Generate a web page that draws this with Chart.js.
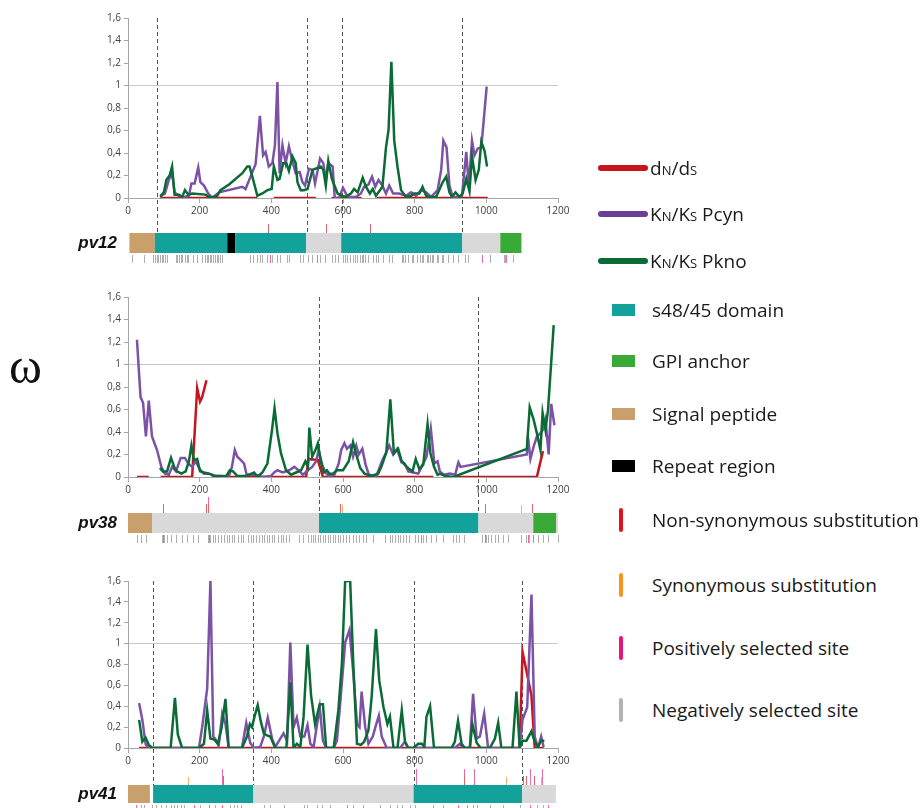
<!DOCTYPE html>
<html>
<head>
<meta charset="utf-8">
<script src="https://cdn.jsdelivr.net/npm/chart.js@4.4.1/dist/chart.umd.min.js"></script>
<style>
body { margin: 0; background: #fff; width: 922px; height: 808px; overflow: hidden; position: relative; font-family: 'Open Sans', sans-serif; }
canvas { position: absolute; left: 0; }
.gene { position: absolute; left: 0; width: 117px; text-align: right; font: italic bold 17px 'Liberation Sans', Arial, sans-serif; color: #111; line-height: 20px; }
.omega { position: absolute; left: 9px; top: 336px; font: 50px 'Liberation Serif', serif; color: #111; line-height: 60px; }
.leg { position: absolute; font-size: 19px; color: #1a1a1a; white-space: nowrap; line-height: 24px; }
.leg small { font-size: 13px; }
.sw { position: absolute; }
</style>
</head>
<body>
<canvas id="pv12" width="600" height="270" style="top:0px"></canvas>
<canvas id="pv38" width="600" height="270" style="top:280px"></canvas>
<canvas id="pv41" width="600" height="248" style="top:560px"></canvas>

<div class="gene" style="top:233px">pv12</div>
<div class="gene" style="top:513px">pv38</div>
<div class="gene" style="top:784px">pv41</div>
<div class="omega">ω</div>

<div id="legend"></div>

<script>
// ---------- data ----------
var xTicks = [0, 200, 400, 600, 800, 1000, 1200];

// pv12
var pv12Dnds = [[90,0],[361,0],[362,null],[407,0],[524,0],[525,null],[568,0],[652,0],[653,null],[694,0],[1004,0]];
var pv12Pcyn = [[90,0.02],[103,0.04],[114,0.16],[123,0.22],[130,0.05],[142,0.02],[156,0.01],[170,0.02],[177,0.13],[186,0.13],[196,0.27],[202,0.14],[212,0.11],[224,0.04],[235,0],[254,0.05],[319,0.10],[328,0.08],[342,0.19],[356,0.30],[368,0.73],[377,0.38],[384,0.41],[393,0.28],[403,0.31],[410,0.47],[417,1.03],[423,0.22],[431,0.47],[440,0.31],[449,0.46],[457,0.35],[468,0.22],[479,0.23],[487,0.14],[494,0.11],[505,0.26],[515,0.25],[522,0.13],[536,0.35],[545,0.31],[552,0.16],[559,0.31],[571,0.28],[577,0],[589,0],[600,0.09],[613,0.01],[636,0.01],[650,0.04],[659,0.10],[671,0.12],[681,0.19],[690,0.10],[699,0.16],[710,0.11],[720,0.04],[729,0.11],[740,0.04],[757,0.04],[776,0.02],[790,0.05],[804,0.02],[818,0.07],[832,0.05],[846,0.01],[864,0.07],[874,0.25],[880,0.51],[889,0.45],[897,0.11],[906,0.01],[920,0.01],[932,0.02],[944,0.41],[951,0.10],[960,0.51],[967,0.38],[976,0.44],[986,0.45],[1001,0.99]];
var pv12Pkno = [[90,0.01],[100,0.05],[107,0.16],[116,0.20],[123,0.28],[130,0.03],[142,0.03],[151,0.01],[159,0.07],[168,0.03],[179,0.04],[216,0.03],[226,0.01],[240,0.01],[249,0.02],[258,0.07],[282,0.12],[319,0.22],[333,0.28],[339,0.28],[347,0.19],[361,0.02],[375,0.04],[389,0.07],[401,0.08],[407,0.28],[417,0.16],[423,0.17],[433,0.31],[442,0.31],[449,0.24],[459,0.37],[468,0.31],[473,0.14],[482,0.07],[491,0.07],[501,0.08],[515,0.25],[538,0.28],[545,0.25],[552,0.11],[559,0.33],[569,0.17],[585,0.04],[597,0.02],[608,0.01],[622,0.04],[631,0.08],[641,0.05],[655,0.18],[664,0.10],[675,0.04],[683,0.08],[692,0.02],[710,0.10],[720,0.45],[727,0.60],[735,1.21],[743,0.51],[752,0.28],[762,0.07],[776,0.01],[790,0.02],[799,0.04],[813,0.04],[822,0.10],[832,0.02],[841,0.01],[860,0.01],[878,0.14],[888,0.19],[897,0.05],[904,0.01],[914,0.05],[925,0.01],[934,0.04],[944,0.17],[953,0.06],[960,0.37],[970,0.16],[979,0.25],[986,0.50],[995,0.42],[1002,0.28]];
var pv12Bounds = [80, 499, 596, 933];
var pv12Domains = [[4,75,'signal'],[75,277,'s48'],[277,299,'repeat'],[299,497,'s48'],[497,595,'other'],[595,933,'s48'],[933,1039,'other'],[1039,1098,'gpi']];
var pv12NonSyn = [391, 553, 675];
var pv12Syn = [];
var pv12PosAbove = [];
var pv12NegSites = [10,46,71,75,80,85,89,94,99,103,108,133,138,142,147,152,159,164,168,182,192,206,215,220,224,229,233,238,243,247,252,257,261,340,350,359,368,373,387,401,415,424,443,449,480,489,503,513,536,550,568,578,587,601,606,610,620,629,634,638,647,652,657,661,671,685,692,699,713,727,736,764,768,773,782,792,796,806,815,820,824,834,838,843,847,852,861,866,875,880,894,908,922,941,950,1010,1048,1052,1075];
var pv12PosSites = [396, 527, 987, 1055];

// pv38
var pv38Dnds = [[25,0],[58,0],[59,null],[91,0],[179,0],[193,0.79],[201,0.67],[207,0.71],[219,0.86],[220,null],[234,0],[497,0],[504,0.16],[530,0.15],[544,0],[852,0],[853,null],[913,0],[1141,0],[1158,0.23]];
var pv38Pcyn = [[25,1.22],[35,0.71],[42,0.66],[50,0.36],[58,0.68],[67,0.36],[81,0.24],[93,0.09],[103,0.03],[114,0.02],[123,0.09],[134,0.05],[147,0.17],[159,0.17],[168,0.12],[179,0.09],[189,0.14],[200,0.07],[212,0.03],[226,0.03],[245,0.01],[282,0.01],[290,0.09],[298,0.24],[305,0.18],[315,0.15],[324,0.12],[331,0.02],[357,0.02],[375,0],[399,0.01],[408,0.04],[417,0.06],[432,0.04],[450,0.06],[464,0.09],[476,0.06],[488,0.02],[502,0.06],[514,0.09],[525,0.14],[532,0.24],[542,0.11],[551,0.04],[560,0.01],[576,0.02],[588,0.12],[595,0.24],[604,0.30],[611,0.25],[620,0.28],[628,0.18],[637,0.28],[644,0.20],[654,0.25],[663,0.11],[672,0.02],[693,0.01],[710,0.15],[721,0.22],[729,0.28],[740,0.20],[751,0.25],[763,0.13],[772,0.12],[782,0.05],[796,0.04],[810,0.03],[819,0.09],[833,0.18],[845,0.43],[855,0.12],[864,0.14],[870,0.05],[882,0.02],[898,0.03],[913,0.02],[922,0.13],[928,0.09],[1113,0.20],[1116,0.36],[1123,0.16],[1132,0.27],[1141,0.36],[1151,0.39],[1158,0.42],[1165,0.51],[1174,0.20],[1181,0.65],[1190,0.46]];
var pv38Pkno = [[89,0.08],[97,0.05],[109,0.05],[120,0.17],[130,0.08],[137,0.05],[149,0.03],[161,0.05],[170,0.14],[177,0.28],[184,0.15],[193,0.16],[201,0.05],[212,0.04],[226,0.03],[240,0.01],[259,0.01],[273,0],[284,0.06],[293,0.05],[305,0.01],[329,0.01],[352,0.04],[361,0],[375,0.04],[389,0.12],[402,0.42],[409,0.61],[417,0.39],[427,0.21],[441,0.06],[455,0.02],[469,0.04],[483,0.06],[495,0.14],[502,0.09],[506,0.44],[514,0.18],[523,0.24],[530,0.30],[537,0.15],[546,0.04],[555,0.06],[562,0.03],[572,0.03],[583,0.06],[600,0.06],[616,0.14],[628,0.31],[637,0.20],[648,0.08],[660,0.03],[679,0.01],[698,0.03],[707,0.09],[721,0.22],[732,0.69],[742,0.21],[754,0.25],[763,0.15],[772,0.11],[785,0.07],[794,0.05],[803,0.16],[813,0.07],[824,0.11],[836,0.47],[844,0.21],[854,0.09],[864,0.02],[870,0.03],[884,0.01],[908,0],[1113,0.25],[1121,0.62],[1132,0.51],[1141,0.39],[1151,0.24],[1157,0.57],[1165,0.42],[1172,0.59],[1188,1.35]];
var pv38Bounds = [533, 977];
var pv38Domains = [[0,67,'signal'],[67,533,'other'],[533,978,'s48'],[978,1131,'other'],[1131,1195,'gpi'],[1195,1200,'other']];
var pv38NonSyn = [98, 217, 222, 591, 995, 1128];
var pv38Syn = [597, 1096];
var pv38PosAbove = [224];
var pv38NegSites = [26,35,49,96,101,110,119,133,152,166,180,194,222,228,236,243,250,259,268,275,282,290,296,306,315,322,334,343,350,357,366,374,380,387,394,402,408,418,427,432,441,450,478,487,501,511,515,523,529,536,543,551,557,564,571,579,585,592,599,609,618,627,637,646,655,663,683,716,730,737,744,753,760,767,776,784,800,809,823,832,846,860,879,907,916,925,939,989,998,1005,1014,1023,1033,1047,1060,1098,1112,1120,1144,1158,1172,1200];
var pv38PosSites = [98, 225, 818, 995, 1116, 1129];

// pv41
var pv41Dnds = [[31,0],[1093,0],[1101,0.92],[1113,0.72],[1126,0.50],[1135,0],[1160,0]];
var pv41Pcyn = [[31,0.43],[40,0.27],[49,0.04],[56,0],[198,0],[207,0.20],[221,0.57],[230,1.60],[238,0.11],[247,0.07],[253,0.02],[263,0.33],[272,0.23],[281,0],[318,0],[330,0.24],[341,0.05],[351,0],[369,0.01],[380,0.12],[390,0.29],[402,0.09],[411,0.01],[425,0.09],[434,0.14],[444,0.07],[453,1.01],[462,0.20],[471,0.29],[481,0.11],[492,0.11],[501,0.22],[509,0.04],[518,0.01],[535,0.39],[544,0.07],[553,0],[574,0],[583,0.07],[592,0.42],[606,1.01],[618,1.13],[629,0.71],[639,0.23],[646,0.20],[652,0.54],[662,0.20],[671,0.04],[683,0.11],[692,0.22],[700,0.31],[708,0.11],[722,0],[759,0],[773,0.06],[782,0],[912,0],[926,0.04],[935,0],[954,0],[963,0.52],[973,0.09],[982,0.11],[994,0.33],[1005,0],[1093,0],[1101,0.27],[1114,0.39],[1126,1.47],[1135,0.11],[1144,0],[1153,0.11],[1160,0.01]];
var pv41Pkno = [[31,0.27],[40,0.06],[49,0.10],[58,0.03],[68,0],[119,0],[131,0.48],[139,0.13],[151,0],[198,0],[212,0.04],[221,0.36],[230,0.09],[241,0.08],[251,0.04],[261,0.19],[272,0.47],[281,0],[318,0],[332,0.11],[340,0.23],[346,0.20],[353,0.30],[362,0.41],[371,0.25],[379,0.14],[388,0.12],[397,0.11],[411,0],[442,0],[453,0.63],[462,0],[471,0.04],[481,0.01],[490,0.30],[501,0.99],[511,0.50],[522,0.23],[535,0.42],[544,0.42],[553,0],[574,0],[587,0.36],[597,0.81],[606,1.60],[612,1.60],[620,1.60],[629,0.78],[639,0.04],[650,0.03],[659,0.06],[671,0.17],[680,0.49],[692,1.14],[701,0.65],[713,0.39],[724,0.23],[731,0.30],[741,0],[752,0],[764,0.36],[773,0.06],[782,0],[796,0],[810,0.04],[820,0.04],[827,0.01],[833,0.30],[843,0.40],[854,0],[903,0],[912,0.06],[921,0.26],[931,0.04],[940,0],[954,0],[961,0.23],[973,0.05],[984,0],[1010,0],[1024,0.09],[1033,0.24],[1042,0],[1073,0],[1084,0.54],[1093,0],[1101,0.07],[1112,0.07],[1126,0.16],[1135,0.06],[1144,0.01],[1153,0.07],[1162,0.07]];
var pv41Bounds = [70, 349, 797, 1099];
var pv41Domains = [[0,61,'signal'],[70,350,'s48'],[350,797,'other'],[797,1100,'s48'],[1100,1194,'other']];
var pv41NonSyn = [265, 938, 1102, 1111, 1132];
var pv41Syn = [168, 1054, 1153];
var pv41PosAbove = [263, 804, 938, 965, 1123, 1156];
var pv41NegSites = [35,45,68,77,91,105,119,128,137,147,156,202,244,286,295,304,314,379,397,434,490,499,527,541,564,629,657,703,731,750,764,787,801,852,880,963,973,1010,1047,1093,1140,1158];
var pv41PosSites = [21, 184, 226, 263, 611, 921, 945, 1121, 1172];

// ---------- drawing ----------
var domainColors = { signal: '#c9a06b', s48: '#13a19b', repeat: '#000000', other: '#d9d9d9', gpi: '#3aaa36' };

function pts(list) {
    return list.map(function (p) { return { x: p[0], y: p[1] }; });
}

function siteTicks(ctx, xs, list, color, y1, y2) {
    ctx.strokeStyle = color;
    ctx.lineWidth = 1;
    list.forEach(function (v) {
        var px = Math.round(xs.getPixelForValue(v)) + 0.5;
        ctx.beginPath();
        ctx.moveTo(px, y1);
        ctx.lineTo(px, y2);
        ctx.stroke();
    });
}

var genePlugin = {
    id: 'gene',
    beforeDatasetsDraw: function (chart) {
        var g = chart.options.plugins.gene;
        var ctx = chart.ctx, xs = chart.scales.x, area = chart.chartArea;
        var top = area.bottom + g.offset;
        ctx.save();
        ctx.strokeStyle = '#555';
        ctx.lineWidth = 1;
        ctx.setLineDash([4, 3]);
        g.bounds.forEach(function (v) {
            var px = Math.round(xs.getPixelForValue(v)) + 0.5;
            ctx.beginPath();
            ctx.moveTo(px, area.top);
            ctx.lineTo(px, top);
            ctx.stroke();
        });
        ctx.restore();
    },
    afterDraw: function (chart) {
        var g = chart.options.plugins.gene;
        var ctx = chart.ctx, xs = chart.scales.x, area = chart.chartArea;
        var top = area.bottom + g.offset;
        var bottom = top + g.height;
        ctx.save();
        g.domains.forEach(function (d) {
            var x1 = xs.getPixelForValue(d[0]), x2 = xs.getPixelForValue(d[1]);
            ctx.fillStyle = domainColors[d[2]];
            ctx.fillRect(x1, top, x2 - x1, g.height);
        });
        siteTicks(ctx, xs, g.neg, '#b0b0b0', bottom + 2, bottom + 10);
        siteTicks(ctx, xs, g.pos, '#f06aa8', bottom + 2, bottom + 10);
        siteTicks(ctx, xs, g.posAbove, '#f06aa8', top - 16, top);
        siteTicks(ctx, xs, g.nonSyn, '#e8606a', top - 9, top);
        siteTicks(ctx, xs, g.syn, '#f7b46e', top - 8, top);
        ctx.restore();
    }
};

function fmtY(v) {
    return String(Math.round(v * 10) / 10).replace('.', ',');
}

function fmtX(v) {
    return String(v);
}

function makeChart(id, dnds, pcyn, pkno, gene, pad) {
    return new Chart(document.getElementById(id), {
        type: 'line',
        data: {
            datasets: [
                { label: 'KN/KS Pkno', data: pts(pkno), borderColor: '#0b6b36', borderWidth: 2.5 },
                { label: 'KN/KS Pcyn', data: pts(pcyn), borderColor: '#7b52a6', borderWidth: 2.5 },
                { label: 'dN/dS', data: pts(dnds), borderColor: '#c8141e', borderWidth: 2.5 }
            ]
        },
        options: {
            responsive: false,
            animation: false,
            spanGaps: false,
            elements: { point: { radius: 0 }, line: { tension: 0 } },
            layout: { padding: pad },
            plugins: { legend: { display: false }, tooltip: { enabled: false }, gene: gene },
            scales: {
                x: {
                    type: 'linear', min: 0, max: 1200,
                    afterBuildTicks: function (s) { s.ticks = xTicks.map(function (v) { return { value: v }; }); },
                    afterFit: function (s) { s.height = 22; },
                    grid: { drawOnChartArea: false, color: 'rgba(0,0,0,0)', tickColor: '#a6a6a6', tickLength: 5 },
                    border: { color: '#a6a6a6' },
                    ticks: { callback: fmtX, font: { family: 'Open Sans', size: 10 }, color: '#404040', padding: 2, maxRotation: 0 }
                },
                y: {
                    min: 0, max: 1.6,
                    afterFit: function (s) { s.width = 30; },
                    grid: {
                        color: function (c) { return c.tick && Math.abs(c.tick.value - 1) < 1e-6 ? '#c8c8c8' : 'rgba(0,0,0,0)'; },
                        tickColor: '#a6a6a6', tickLength: 4
                    },
                    border: { color: '#a6a6a6' },
                    ticks: { stepSize: 0.2, callback: fmtY, font: { family: 'Open Sans', size: 10 }, color: '#404040', padding: 3 }
                }
            }
        },
        plugins: [genePlugin]
    });
}

makeChart('pv12', pv12Dnds, pv12Pcyn, pv12Pkno,
    { offset: 35, height: 20, bounds: pv12Bounds, domains: pv12Domains, neg: pv12NegSites, pos: pv12PosSites, posAbove: pv12PosAbove, nonSyn: pv12NonSyn, syn: pv12Syn },
    { left: 98, right: 42, top: 18, bottom: 50 });
makeChart('pv38', pv38Dnds, pv38Pcyn, pv38Pkno,
    { offset: 36, height: 20, bounds: pv38Bounds, domains: pv38Domains, neg: pv38NegSites, pos: pv38PosSites, posAbove: pv38PosAbove, nonSyn: pv38NonSyn, syn: pv38Syn },
    { left: 98, right: 42, top: 17, bottom: 51 });
makeChart('pv41', pv41Dnds, pv41Pcyn, pv41Pkno,
    { offset: 37, height: 18, bounds: pv41Bounds, domains: pv41Domains, neg: pv41NegSites, pos: pv41PosSites, posAbove: pv41PosAbove, nonSyn: pv41NonSyn, syn: pv41Syn },
    { left: 98, right: 42, top: 21, bottom: 38 });

// ---------- legend ----------
var legendItems = [
    ['line', '#c8141e', 'd<small>N</small>/d<small>S</small>', 168],
    ['line', '#6a3f98', 'K<small>N</small>/K<small>S</small> Pcyn', 214],
    ['line', '#0b6b36', 'K<small>N</small>/K<small>S</small> Pkno', 261],
    ['box', '#13a19b', 's48/45 domain', 310],
    ['box', '#3aaa36', 'GPI anchor', 361],
    ['box', '#c9a06b', 'Signal peptide', 414],
    ['box', '#000000', 'Repeat region', 466],
    ['tick', '#e3101e', 'Non-synonymous substitution', 520],
    ['tick', '#f7931e', 'Synonymous substitution', 585],
    ['tick', '#e6157a', 'Positively selected site', 648],
    ['tick', '#b3b3b3', 'Negatively selected site', 710]
];
var leg = document.getElementById('legend');
legendItems.forEach(function (it) {
    var sw = document.createElement('div');
    sw.className = 'sw';
    if (it[0] == 'line') {
        sw.style.cssText = 'left:598px;top:' + (it[3] - 3) + 'px;width:50px;height:6px;border-radius:3px;background:' + it[1];
    } else if (it[0] == 'box') {
        sw.style.cssText = 'left:612px;top:' + (it[3] - 6) + 'px;width:23px;height:12px;background:' + it[1];
    } else {
        sw.style.cssText = 'left:619px;top:' + (it[3] - 12) + 'px;width:4px;height:24px;border-radius:2px;background:' + it[1];
    }
    leg.appendChild(sw);
    var t = document.createElement('div');
    t.className = 'leg';
    t.style.left = (it[0] == 'line' ? 650 : 652) + 'px';
    t.style.top = (it[3] - 12) + 'px';
    t.innerHTML = it[2];
    leg.appendChild(t);
});
</script>
</body>
</html>
